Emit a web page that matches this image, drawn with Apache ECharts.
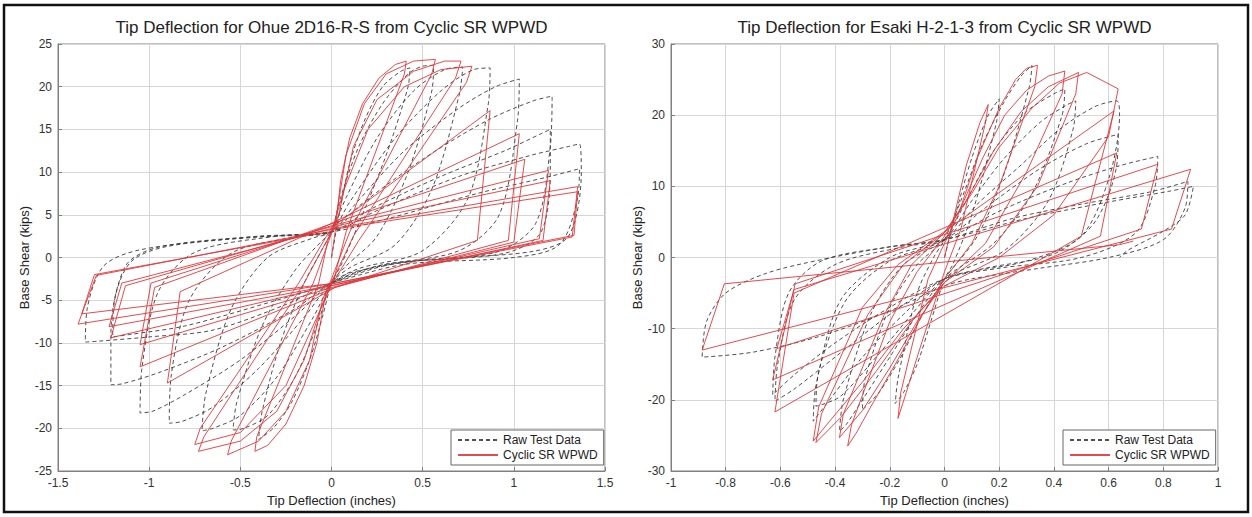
<!DOCTYPE html>
<html>
<head>
<meta charset="utf-8">
<script src="https://cdn.jsdelivr.net/npm/echarts@6/dist/echarts.min.js"></script>
<style>
  html, body { margin: 0; padding: 0; background: #ffffff; }
  #chart { width: 1252px; height: 517px; }
</style>
</head>
<body>
<div id="chart"></div>
<script>
// Axis ticks
const ohueXTicks = [-1.5, -1, -0.5, 0, 0.5, 1, 1.5];
const ohueYTicks = [-25, -20, -15, -10, -5, 0, 5, 10, 15, 20, 25];
const esakiXTicks = [-1, -0.8, -0.6, -0.4, -0.2, 0, 0.2, 0.4, 0.6, 0.8, 1];
const esakiYTicks = [-30, -20, -10, 0, 10, 20, 30];

const titles = [
  'Tip Deflection for Ohue 2D16-R-S from Cyclic SR WPWD',
  'Tip Deflection for Esaki H-2-1-3 from Cyclic SR WPWD'
];
const seriesNames = ['Raw Test Data', 'Cyclic SR WPWD'];
const xName = 'Tip Deflection (inches)';
const yName = 'Base Shear (kips)';

// Ohue 2D16-R-S : measured hysteresis (tip deflection in, base shear kips)
const ohueRaw = [
  [0, 0], [0.05, 6], [0.1, 11], [0.18, 16], [0.28, 20], [0.38, 21.8], [0.43, 22.2], [0.42, 20], [0.3, 12], [0.15, 4], [0.05, -1], [0, -3],
  [-0.05, -7], [-0.12, -12], [-0.22, -17], [-0.32, -20], [-0.4, -21.3], [-0.38, -18], [-0.28, -10], [-0.15, -3], [-0.05, 1], [0, 3],
  [0.05, 7], [0.15, 13], [0.28, 18], [0.42, 21.5], [0.5, 22.4], [0.56, 22.5], [0.55, 19.5], [0.42, 10], [0.25, 2.5], [0.08, -1], [0, -3],
  [-0.08, -8], [-0.2, -14], [-0.35, -18.5], [-0.48, -20], [-0.54, -20.2], [-0.52, -17], [-0.38, -8], [-0.2, -1.5], [-0.05, 2], [0, 3],
  [0.08, 7], [0.25, 14], [0.45, 19.5], [0.62, 22], [0.72, 22.3], [0.7, 19], [0.55, 8], [0.35, 1.5], [0.1, -1.2], [0, -3],
  [-0.1, -7], [-0.3, -14], [-0.5, -18.5], [-0.65, -20], [-0.71, -20.3], [-0.69, -16], [-0.55, -6], [-0.35, 0], [-0.1, 2.3], [0, 3],
  [0.1, 6.5], [0.35, 14], [0.6, 19.5], [0.78, 22], [0.87, 22.2], [0.86, 18], [0.75, 7], [0.5, 0.8], [0.15, -1.3], [0, -3],
  [-0.15, -7], [-0.4, -13], [-0.65, -17.5], [-0.82, -19.2], [-0.89, -19.4], [-0.88, -14], [-0.78, -5], [-0.55, 0.5], [-0.2, 2.4], [0, 3],
  [0.12, 6], [0.4, 12.5], [0.7, 17.5], [0.9, 20], [1.03, 20.9], [1.02, 16], [0.92, 5], [0.7, 0.8], [0.25, -1], [0, -3],
  [-0.18, -6.5], [-0.5, -12], [-0.8, -16], [-0.98, -18], [-1.05, -18.2], [-1.04, -13], [-0.95, -4], [-0.75, 0.6], [-0.3, 2.5], [0, 3],
  [0.15, 6], [0.5, 11.5], [0.85, 16], [1.1, 18.3], [1.21, 18.9], [1.2, 13], [1.12, 4], [0.9, 0.6], [0.3, -0.8], [0, -3],
  [-0.2, -6], [-0.6, -10.5], [-0.95, -13.5], [-1.15, -14.8], [-1.21, -14.9], [-1.21, -9], [-1.13, -1], [-0.95, 1.2], [-0.4, 2.5], [0, 3],
  [0.2, 5.5], [0.6, 9.5], [0.95, 12.5], [1.15, 14.5], [1.2, 15], [1.2, 11], [1.15, 3], [0.95, 0.5], [0.35, -0.7], [0, -3],
  [-0.25, -5.5], [-0.65, -8.5], [-1.0, -9.3], [-1.28, -9.8], [-1.35, -9.9], [-1.34, -6], [-1.25, -1], [-1.05, 0.9], [-0.5, 2.3], [0, 3],
  [0.25, 5.5], [0.7, 9.5], [1.1, 12], [1.3, 13], [1.36, 13.3], [1.37, 10], [1.3, 2.5], [1.1, 0.7], [0.5, -0.3], [0.1, -1.8], [0, -3],
  [-0.3, -5], [-0.8, -8], [-1.1, -9], [-1.2, -9.3], [-1.19, -5], [-1.1, -0.5], [-0.9, 1.3], [-0.4, 2.4], [0, 3],
  [0.3, 4.5], [0.8, 7.5], [1.2, 9.5], [1.36, 10.4], [1.35, 7], [1.25, 1.5], [1.0, 0], [0.4, -0.8], [0, -3]
];

// Ohue 2D16-R-S : Cyclic SR WPWD model response
const ohueModel = [
  [0, 0], [0.02, 3],
  [0.05, 9], [0.1, 14], [0.17, 18], [0.26, 21], [0.35, 22.6], [0.41, 23.0], [0.40, 21.5], [0.08, 3], [0.02, -2], [-0.03, -4],
  [-0.08, -10], [-0.15, -15], [-0.25, -19.5], [-0.35, -22], [-0.42, -22.7], [-0.41, -21], [-0.07, -3], [-0.02, 2], [0.02, 4],
  [0.08, 12], [0.18, 18], [0.3, 21.5], [0.45, 23], [0.57, 23.2], [0.55, 21.5], [0.1, 3], [0, -2.5], [-0.05, -5],
  [-0.12, -12], [-0.25, -18], [-0.4, -21.5], [-0.57, -23.1], [-0.55, -21.5], [-0.1, -3], [0, 2.8], [0.04, 5],
  [0.12, 13], [0.25, 18.5], [0.45, 21.8], [0.62, 23], [0.71, 23], [0.68, 21], [0.12, 2.5], [0, -3], [-0.06, -6],
  [-0.15, -12], [-0.3, -18], [-0.5, -21.5], [-0.73, -22.7], [-0.7, -21], [-0.15, -3], [0, 3],
  [0.07, 8], [0.2, 15], [0.4, 20], [0.6, 22], [0.77, 22.4], [0.74, 20.5], [0.15, 2], [0, -3.2],
  [-0.08, -7], [-0.25, -15], [-0.5, -20.5], [-0.75, -21.9], [-0.72, -20], [-0.18, -3], [0, 3.5],
  [0.87, 17.2], [0.8, 2.0], [0.02, -3.5], [-0.9, -14.7], [-0.83, -4.0], [-0.02, 3.8],
  [1.03, 14.5], [0.97, 2.0], [0.02, -3.5], [-1.05, -12.8], [-0.97, -3.5], [-0.02, 3.8],
  [1.06, 11.5], [1.0, 1.8], [0.02, -3.4], [-1.05, -10.2], [-0.99, -3.0], [-0.02, 3.6],
  [1.19, 10.2], [1.14, 2.2], [0.02, -3.2], [-1.21, -9.4], [-1.13, -3.3], [-0.02, 3.5],
  [1.2, 9.0], [1.16, 2.0], [0.02, -3.2], [-1.22, -8.1], [-1.15, -3.0], [-0.02, 3.3],
  [1.35, 8.3], [1.32, 2.4], [0.02, -3.0], [-1.39, -7.8], [-1.29, -2.1], [-0.02, 3.2],
  [1.35, 7.7], [1.33, 2.6], [0.02, -3.0], [-1.37, -6.6], [-1.3, -2.0], [-0.02, 3.0]
];

// Esaki H-2-1-3 : measured hysteresis
const esakiRaw = [
  [0, 0], [0.04, 6], [0.1, 14], [0.16, 20], [0.2, 22.3], [0.19, 19], [0.1, 6], [0.03, -1], [0, -3],
  [-0.05, -9], [-0.1, -15], [-0.15, -19], [-0.18, -20.5], [-0.17, -17], [-0.1, -5], [-0.04, 0], [0, 2.5],
  [0.06, 8], [0.14, 16], [0.22, 22], [0.28, 25.5], [0.32, 27], [0.31, 24], [0.22, 12], [0.12, 3], [0, -3],
  [-0.08, -8], [-0.16, -14], [-0.24, -19], [-0.3, -21.4], [-0.29, -17], [-0.2, -7], [-0.1, -1], [0, 2.5],
  [0.08, 8], [0.18, 15], [0.3, 20.5], [0.4, 23], [0.44, 23.7], [0.43, 20], [0.32, 9], [0.18, 2], [0, -3],
  [-0.1, -8], [-0.2, -14], [-0.3, -20], [-0.36, -23.5], [-0.384, -24.4], [-0.37, -20], [-0.27, -8], [-0.15, -1], [0, 2.5],
  [0.1, 8], [0.22, 14], [0.35, 19], [0.45, 21.5], [0.48, 22], [0.47, 18], [0.38, 8], [0.22, 1], [0, -3],
  [-0.12, -8], [-0.25, -14], [-0.38, -19.5], [-0.45, -20.7], [-0.47, -20.9], [-0.46, -16], [-0.36, -6], [-0.2, -0.5], [0, 2.5],
  [0.12, 7.5], [0.28, 13], [0.42, 18], [0.55, 21.2], [0.63, 22], [0.64, 20], [0.6, 11], [0.5, 3], [0.3, -0.5], [0, -3],
  [-0.15, -8], [-0.3, -14], [-0.42, -20], [-0.48, -23], [-0.47, -18], [-0.38, -6], [-0.2, 0], [0, 2.5],
  [0.15, 7], [0.35, 12.5], [0.52, 16], [0.635, 17.3], [0.63, 13], [0.55, 5], [0.4, 0.5], [0.15, -1.5], [0, -3],
  [-0.2, -8], [-0.4, -14], [-0.55, -18.5], [-0.62, -20.2], [-0.61, -15], [-0.55, -6], [-0.4, -1], [-0.15, 1.5], [0, 2.5],
  [0.2, 6.5], [0.45, 10.5], [0.65, 13], [0.78, 14.2], [0.77, 10], [0.7, 3.5], [0.5, 0], [0.2, -1.5], [0, -3],
  [-0.2, -7], [-0.4, -12], [-0.55, -16.5], [-0.628, -19.3], [-0.62, -14], [-0.57, -5], [-0.45, -0.5], [-0.2, 1.5], [0, 2.5],
  [0.25, 5.5], [0.5, 7.5], [0.75, 9.2], [0.89, 10.7], [0.88, 7], [0.8, 2.5], [0.6, 0], [0.35, -1.5], [0.1, -3], [0, -4],
  [-0.2, -7.5], [-0.45, -11], [-0.7, -13.3], [-0.886, -14], [-0.87, -9], [-0.8, -5], [-0.65, -2.2], [-0.45, -0.3], [-0.2, 1.5], [0, 2.5],
  [0.3, 5.5], [0.6, 7.8], [0.82, 9.3], [0.91, 10], [0.88, 6], [0.8, 3.7], [0.67, 1], [0.64, 0]
];

// Esaki H-2-1-3 : Cyclic SR WPWD model response
const esakiModel = [
  [0, 0],
  [0.03, 5], [0.08, 13], [0.13, 19], [0.16, 21.5], [0.15, 19], [0.06, 4], [0, -2], [-0.05, -8], [-0.1, -14], [-0.14, -19], [-0.17, -22.6], [-0.16, -19], [-0.06, -3], [0, 2],
  [0.05, 6], [0.12, 14], [0.2, 21], [0.26, 25], [0.3, 26.6], [0.34, 27], [0.33, 24], [0.2, 10], [0.1, 2], [0, -3], [-0.08, -8], [-0.18, -15], [-0.27, -21], [-0.32, -24.5], [-0.354, -26.5], [-0.34, -23.5], [-0.2, -9], [-0.1, -2], [0, 3],
  [0.06, 7], [0.14, 14], [0.22, 20], [0.3, 23.5], [0.38, 25.5], [0.44, 26.2], [0.43, 23], [0.3, 12], [0.15, 2], [0, -3.5], [-0.1, -9], [-0.2, -15.5], [-0.3, -21.5], [-0.384, -25.3], [-0.37, -22], [-0.22, -8], [-0.12, -1], [0, 3.5],
  [0.08, 8], [0.18, 15], [0.28, 20.5], [0.38, 24], [0.49, 26], [0.48, 23], [0.34, 10], [0.18, 1.5], [0, -3.5], [-0.12, -9], [-0.25, -16], [-0.38, -22.5], [-0.47, -26], [-0.45, -22], [-0.28, -8], [-0.15, -1], [0, 3.5],
  [0.1, 9], [0.2, 15.5], [0.32, 21], [0.42, 24.5], [0.52, 26], [0.635, 23.7], [0.6, 17], [0.4, 6], [0.2, 0], [0, -4], [-0.15, -10], [-0.3, -17.5], [-0.42, -23], [-0.48, -25.8], [-0.46, -21], [-0.3, -7], [-0.17, -1],
  [0.62, 20.6], [0.5, 3], [-0.62, -21.7], [-0.55, -5],
  [0.63, 14.7], [0.57, 3], [-0.628, -17.2], [-0.546, -3.7],
  [0.78, 13.1], [0.72, 4], [-0.613, -12.8], [-0.55, -4.5],
  [0.9, 12.4], [0.83, 4], [-0.886, -13], [-0.805, -3.7],
  [0.64, 1.8], [0.69, 2.3]
];

const FONT = '"Liberation Sans", Arial, Helvetica, sans-serif';
const AXIS_GRAY = '#808080';
const GRID_GRAY = '#d6d6d6';
const RAW_COLOR = '#3c3c3c';
const MODEL_COLOR = '#e0373c';

const panels = [
  { left: 58, xTicks: ohueXTicks, yTicks: ohueYTicks, raw: ohueRaw, model: ohueModel, legendLeft: 451 },
  { left: 671, xTicks: esakiXTicks, yTicks: esakiYTicks, raw: esakiRaw, model: esakiModel, legendLeft: 1063 }
];
const PLOT_TOP = 44, PLOT_W = 547, PLOT_H = 427;

// tick text without floating point noise
const tickText = v => String(Math.round(v * 1000) / 1000);

function axisBase() {
  return {
    axisLine: { show: true, onZero: false, lineStyle: { color: AXIS_GRAY, width: 1 } },
    axisTick: { show: true, inside: true, length: 4, lineStyle: { color: AXIS_GRAY } },
    splitLine: { show: true, lineStyle: { color: GRID_GRAY, width: 1 } },
    axisLabel: { color: '#333', fontSize: 12, fontFamily: FONT, margin: 6, formatter: tickText },
    nameTextStyle: { color: '#222', fontSize: 13, fontFamily: FONT },
    nameLocation: 'middle'
  };
}

const grid = [], xAxis = [], yAxis = [], series = [], legend = [], graphic = [];

panels.forEach((p, i) => {
  grid.push({
    left: p.left, top: PLOT_TOP, width: PLOT_W, height: PLOT_H,
    show: true, borderColor: AXIS_GRAY, borderWidth: 1, backgroundColor: '#fff'
  });
  xAxis.push(Object.assign(axisBase(), {
    type: 'value', gridIndex: i,
    min: p.xTicks[0], max: p.xTicks[p.xTicks.length - 1],
    interval: Math.round((p.xTicks[1] - p.xTicks[0]) * 1000) / 1000,
    name: xName, nameGap: 23
  }));
  yAxis.push(Object.assign(axisBase(), {
    type: 'value', gridIndex: i,
    min: p.yTicks[0], max: p.yTicks[p.yTicks.length - 1],
    interval: p.yTicks[1] - p.yTicks[0],
    name: yName, nameGap: 27, nameRotate: 90
  }));
  series.push({
    name: seriesNames[0], type: 'line', xAxisIndex: i, yAxisIndex: i,
    data: p.raw, symbol: 'none', smooth: 0.3, animation: false, z: 2,
    lineStyle: { color: RAW_COLOR, width: 1, type: [4, 3], opacity: 0.9 },
    itemStyle: { color: RAW_COLOR }
  });
  series.push({
    name: seriesNames[1], type: 'line', xAxisIndex: i, yAxisIndex: i,
    data: p.model, symbol: 'none', smooth: false, animation: false, z: 3,
    lineStyle: { color: MODEL_COLOR, width: 1, opacity: 0.9 },
    itemStyle: { color: MODEL_COLOR }
  });
  legend.push({
    data: seriesNames, orient: 'vertical', left: p.legendLeft, top: 430,
    itemWidth: 40, itemHeight: 10, itemGap: 3, padding: [4, 6, 4, 6],
    borderColor: '#666', borderWidth: 1, backgroundColor: '#fff',
    selectedMode: false,
    itemStyle: { opacity: 0, borderWidth: 0 },
    textStyle: { color: '#222', fontSize: 12, fontFamily: FONT }
  });
  graphic.push({
    type: 'text', x: p.left + PLOT_W / 2, y: 27, z: 10,
    style: { text: titles[i], align: 'center', verticalAlign: 'middle', font: '17px ' + FONT, fill: '#222' }
  });
});

graphic.push({
  type: 'rect', z: 20, silent: true,
  shape: { x: 4, y: 5, width: 1244, height: 507 },
  style: { fill: 'none', stroke: '#111', lineWidth: 2.5 }
});

const chart = echarts.init(document.getElementById('chart'), null, { renderer: 'svg' });
chart.setOption({
  backgroundColor: '#fff',
  animation: false,
  grid, xAxis, yAxis, series, legend, graphic
});
</script>
</body>
</html>
